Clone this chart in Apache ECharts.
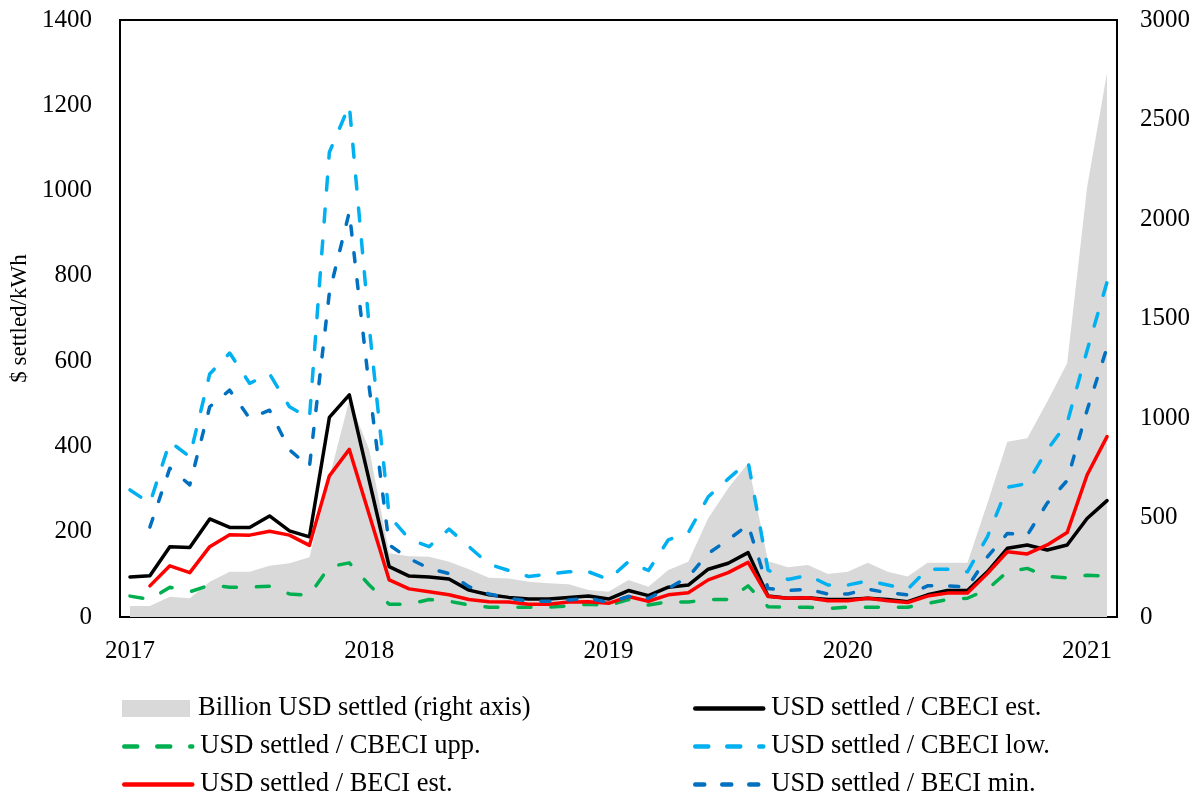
<!DOCTYPE html>
<html>
<head>
<meta charset="utf-8">
<script src="https://cdn.jsdelivr.net/npm/echarts@6/dist/echarts.min.js"></script>
<style>
html,body{margin:0;padding:0;background:#fff;}
#c{width:1203px;height:795px;}
</style>
</head>
<body>
<div id="c"></div>
<script>
const months = [
 '2017-01','2017-02','2017-03','2017-04','2017-05','2017-06','2017-07','2017-08','2017-09','2017-10','2017-11','2017-12',
 '2018-01','2018-02','2018-03','2018-04','2018-05','2018-06','2018-07','2018-08','2018-09','2018-10','2018-11','2018-12',
 '2019-01','2019-02','2019-03','2019-04','2019-05','2019-06','2019-07','2019-08','2019-09','2019-10','2019-11','2019-12',
 '2020-01','2020-02','2020-03','2020-04','2020-05','2020-06','2020-07','2020-08','2020-09','2020-10','2020-11','2020-12',
 '2021-01','2021-02'
];
const yearTicks = ['2017','2018','2019','2020','2021'];
const leftTicks = [0,200,400,600,800,1000,1200,1400];
const rightTicks = [0,500,1000,1500,2000,2500,3000];

const billionSettled = [55,55,102,94,177,228,228,258,270,300,
 700,1090,840,320,305,303,278,240,197,194,
 177,169,164,136,127,186,152,236,278,496,
 647,772,280,250,261,216,228,273,228,203,
 273,273,273,571,881,898,1082,1275,2160,2735];
const cbeciEst = [94,97,165,163,230,210,210,237,202,188,
 468,521,320,118,96,94,89,63,52,46,
 42,42,46,49,42,62,50,70,75,112,
 126,151,49,44,45,41,41,44,41,36,
 52,62,62,106,161,169,157,169,231,273];
const cbeciUpp = [49,41,70,59,75,70,70,72,54,51,
 118,127,75,30,30,41,37,28,23,23,
 23,23,26,30,27,41,28,36,35,41,
 41,73,24,23,23,20,23,23,23,23,
 32,41,44,65,106,114,95,92,98,96];
const cbeciLow = [298,267,411,376,570,619,548,570,493,466,
 1090,1200,680,237,183,165,206,165,124,109,
 95,101,106,106,88,130,109,181,198,282,
 324,364,110,88,98,75,75,85,75,65,
 112,112,106,188,304,313,392,455,625,785];
const beciEst = [null,73,120,104,165,193,192,201,192,168,
 331,393,240,87,66,59,52,41,36,35,
 30,30,35,36,32,48,37,52,57,87,
 104,128,48,44,45,38,38,44,38,34,
 49,56,56,102,153,148,169,198,333,423];
const beciMin = [null,211,349,310,493,532,466,485,392,352,
 760,950,538,169,137,114,102,71,54,44,
 37,37,40,44,34,48,44,67,94,149,
 181,216,67,62,65,54,54,65,57,52,
 73,73,70,141,196,192,267,320,485,632];

const names = ['Billion USD settled (right axis)','USD settled / CBECI est.','USD settled / CBECI upp.',
 'USD settled / CBECI low.','USD settled / BECI est.','USD settled / BECI min.'];

const FONT = '"Liberation Serif", "Times New Roman", serif';
const chart = echarts.init(document.getElementById('c'), null, {renderer:'canvas'});

function lineSeries(name, data, color, dash){
  return {
    name, type:'line', data, yAxisIndex:0, symbol:'none', connectNulls:false,
    lineStyle:{color, width:3.5, type: dash || 'solid', cap:'round', join:'round'},
    itemStyle:{color}, animation:false
  };
}
function legendAt(name, left, top, isRect){
  const d = isRect ? {name, icon:'rect'} : {name};
  const lg = {
    data:[d], left, top, itemWidth:68, itemHeight:17, itemGap:0,
    textStyle:{fontFamily:FONT, fontSize:26.5, color:'#000', padding:[0,0,0,3]},
    selectedMode:false
  };
  if (!isRect) {
    lg.itemStyle = {opacity:0};
    lg.lineStyle = {width:4.5};
  }
  return lg;
}

chart.setOption({
  animation:false,
  backgroundColor:'#fff',
  grid:{left:120, right:86, top:20, bottom:178, show:true, borderColor:'#000', borderWidth:2,
        backgroundColor:'transparent', containLabel:false, outerBoundsMode:'none'},
  legend:[
    legendAt(names[0], 117, 690, true),
    legendAt(names[1], 688, 690),
    legendAt(names[2], 117, 728),
    legendAt(names[3], 688, 728),
    legendAt(names[4], 117, 766),
    legendAt(names[5], 688, 766)
  ],
  xAxis:{
    type:'category', data:months, boundaryGap:true,
    axisLine:{show:true, lineStyle:{color:'#000', width:2}},
    axisTick:{show:false},
    axisLabel:{
      interval:function(i){ return i % 12 === 0; },
      formatter:function(v){ const y = v.slice(0,4); return yearTicks.indexOf(y) >= 0 ? y : ''; },
      fontFamily:FONT, fontSize:25, color:'#000', margin:22
    },
    splitLine:{show:false}
  },
  yAxis:[
    {type:'value', min:leftTicks[0], max:leftTicks[leftTicks.length-1], interval:200, position:'left',
     name:'$ settled/kWh', nameLocation:'middle', nameGap:76, nameRotate:90,
     nameTextStyle:{fontFamily:FONT, fontSize:23, color:'#000'},
     axisLine:{show:true, lineStyle:{color:'#000', width:2}}, axisTick:{show:false},
     axisLabel:{fontFamily:FONT, fontSize:25, color:'#000', margin:28, formatter:function(v){return String(v);}},
     splitLine:{show:false}},
    {type:'value', min:rightTicks[0], max:rightTicks[rightTicks.length-1], interval:500, position:'right',
     axisLine:{show:true, lineStyle:{color:'#000', width:2}}, axisTick:{show:false},
     axisLabel:{fontFamily:FONT, fontSize:25, color:'#000', margin:23, formatter:function(v){return String(v);}},
     splitLine:{show:false}}
  ],
  series:[
    {name:names[0], type:'line', data:billionSettled, yAxisIndex:1, symbol:'none',
     lineStyle:{width:0, color:'#d9d9d9'}, areaStyle:{color:'#d9d9d9', opacity:1}, itemStyle:{color:'#d9d9d9'}},
    lineSeries(names[1], cbeciEst, '#000000'),
    lineSeries(names[2], cbeciUpp, '#00b050', [13,20]),
    lineSeries(names[3], cbeciLow, '#00b0f0', [13,19]),
    lineSeries(names[4], beciEst, '#ff0000'),
    lineSeries(names[5], beciMin, '#0070c0', [9,18])
  ]
});
</script>
</body>
</html>
